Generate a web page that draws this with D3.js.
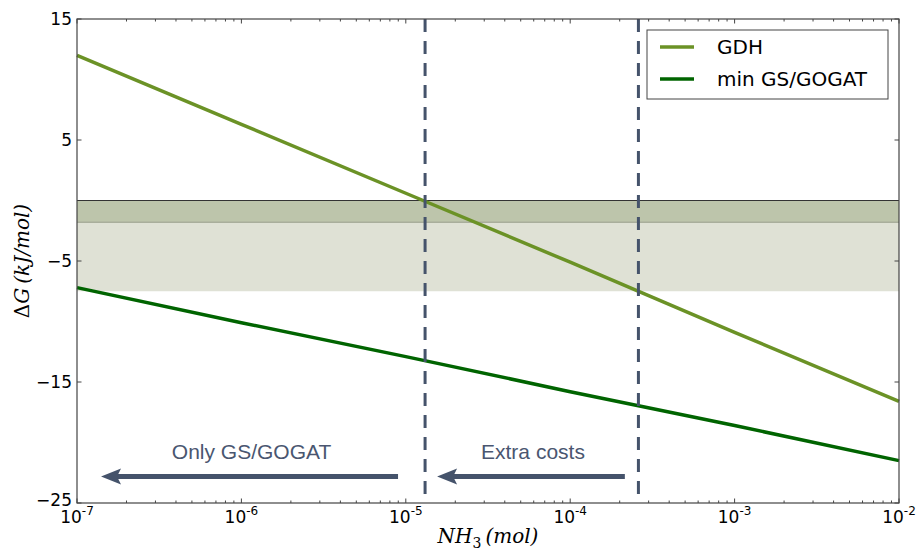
<!DOCTYPE html>
<html lang="en">
<head>
    <meta charset="UTF-8">
    <title>GDH vs GS/GOGAT</title>
    <script src="https://cdn.jsdelivr.net/npm/d3@7"></script>
    <style>
        body{ margin:0px; background:white; }
        text{ font-family:"DejaVu Sans", sans-serif; }
    </style>
</head>
<body>
    <svg id="chart"></svg>
</body>
<script>
    // values
    const nh3 = [1e-7, 1e-6, 1e-5, 1e-4, 1e-3, 1e-2];
    const gdh = [12.0, 6.3, 0.6, -5.1, -10.9, -16.6];
    const gsGogat = [-7.2, -10.1, -12.9, -15.8, -18.6, -21.5];
    const bandOuter = [0, -7.5];
    const bandInner = [0, -1.8];
    const thresholds = [1.31e-5, 2.6e-4];
    const yTicks = [15, 5, -5, -15, -25];
    const xTicks = [1e-7, 1e-6, 1e-5, 1e-4, 1e-3, 1e-2];
    const seriesNames = ['GDH', 'min GS/GOGAT'];
    const seriesColors = ['#6b9226', '#006400'];
    const notes = [
        {label:'Only GS/GOGAT', from:8.97e-6, to:1.4e-7, y:-22.8, ty:-21.4},
        {label:'Extra costs', from:2.15e-4, to:1.55e-5, y:-22.8, ty:-21.4}
    ];

    const w = 918, h = 551;
    const m = {top:19, right:19, bottom:48, left:77};
    const svg = d3.select('#chart').attr('width', w).attr('height', h);

    const x = d3.scaleLog().domain([1e-7, 1e-2]).range([m.left, w - m.right]);
    const y = d3.scaleLinear().domain([-25, 15]).range([h - m.bottom, m.top]);

    // bands
    svg.append('rect')
        .attr('x', x.range()[0]).attr('width', x.range()[1] - x.range()[0])
        .attr('y', y(bandOuter[0])).attr('height', y(bandOuter[1]) - y(bandOuter[0]))
        .attr('fill', '#dfe1d5');
    svg.append('rect')
        .attr('x', x.range()[0]).attr('width', x.range()[1] - x.range()[0])
        .attr('y', y(bandInner[0])).attr('height', y(bandInner[1]) - y(bandInner[0]))
        .attr('fill', '#bdc5ab');
    svg.append('line')
        .attr('x1', x.range()[0]).attr('x2', x.range()[1])
        .attr('y1', y(bandInner[1])).attr('y2', y(bandInner[1]))
        .attr('stroke', '#a9ae9c').attr('stroke-width', 1.5);
    svg.append('line')
        .attr('x1', x.range()[0]).attr('x2', x.range()[1])
        .attr('y1', y(0)).attr('y2', y(0))
        .attr('stroke', '#333').attr('stroke-width', 1);

    // lines
    const line = d3.line().x((d, i) => x(nh3[i])).y(d => y(d));
    [gdh, gsGogat].forEach((s, k) => {
        svg.append('path').datum(s)
            .attr('d', line)
            .attr('fill', 'none')
            .attr('stroke', seriesColors[k])
            .attr('stroke-width', 3.5);
    });

    // dashed thresholds
    thresholds.forEach(t => {
        svg.append('line')
            .attr('x1', x(t)).attr('x2', x(t))
            .attr('y1', m.top).attr('y2', h - m.bottom)
            .attr('stroke', '#45536b').attr('stroke-width', 3)
            .attr('stroke-dasharray', '13,9');
    });

    // arrows + notes
    notes.forEach(n => {
        const x0 = x(n.from), x1 = x(n.to), yy = y(n.y);
        svg.append('line')
            .attr('x1', x0).attr('x2', x1 + 14)
            .attr('y1', yy).attr('y2', yy)
            .attr('stroke', '#45536b').attr('stroke-width', 5);
        svg.append('path')
            .attr('d', `M${x1},${yy} L${x1 + 20},${yy - 8} L${x1 + 16},${yy} L${x1 + 20},${yy + 8} Z`)
            .attr('fill', '#45536b');
        svg.append('text')
            .attr('x', (x0 + x1) / 2 + 2).attr('y', y(n.ty))
            .attr('text-anchor', 'middle')
            .style('font-family', 'Liberation Sans, Arial, sans-serif')
            .attr('font-size', '21px').attr('fill', '#4a5670')
            .text(n.label);
    });

    // frame
    svg.append('rect')
        .attr('x', m.left).attr('y', m.top)
        .attr('width', w - m.left - m.right).attr('height', h - m.top - m.bottom)
        .attr('fill', 'none').attr('stroke', '#444').attr('stroke-width', 1.2);

    // ticks inside, mirrored
    const minor = [];
    for (let e = -7; e < -2; e++) for (let k = 2; k < 10; k++) minor.push(k * Math.pow(10, e));
    const tk = svg.append('g').attr('stroke', '#444').attr('stroke-width', 1);
    xTicks.forEach(t => {
        tk.append('line').attr('x1', x(t)).attr('x2', x(t)).attr('y1', y(-25)).attr('y2', y(-25) - 4.5);
        tk.append('line').attr('x1', x(t)).attr('x2', x(t)).attr('y1', y(15)).attr('y2', y(15) + 4.5);
    });
    minor.forEach(t => {
        tk.append('line').attr('x1', x(t)).attr('x2', x(t)).attr('y1', y(-25)).attr('y2', y(-25) - 2.5);
        tk.append('line').attr('x1', x(t)).attr('x2', x(t)).attr('y1', y(15)).attr('y2', y(15) + 2.5);
    });
    yTicks.forEach(t => {
        tk.append('line').attr('x1', m.left).attr('x2', m.left + 4.5).attr('y1', y(t)).attr('y2', y(t));
        tk.append('line').attr('x1', w - m.right).attr('x2', w - m.right - 4.5).attr('y1', y(t)).attr('y2', y(t));
    });

    // tick labels
    yTicks.forEach(t => {
        svg.append('text')
            .attr('x', m.left - 5).attr('y', y(t) + (t === -25 ? 3 : 6))
            .attr('text-anchor', 'end').attr('font-size', '17px')
            .text(t < 0 ? '\u2212' + Math.abs(t) : t);
    });
    xTicks.forEach(t => {
        const tx = svg.append('text')
            .attr('x', x(t)).attr('y', h - m.bottom + 20)
            .attr('text-anchor', 'middle').attr('font-size', '17px');
        tx.append('tspan').text('10');
        tx.append('tspan').attr('dy', -8).attr('font-size', '12px').text(Math.round(Math.log10(t)));
    });

    // axis titles
    svg.append('text')
        .attr('x', (m.left + w - m.right) / 2).attr('y', h - 8)
        .attr('text-anchor', 'middle')
        .style('font-family', 'DejaVu Serif, serif').style('font-style', 'italic')
        .attr('font-size', '20px')
        .call(t => {
            t.append('tspan').text('NH');
            t.append('tspan').attr('dy', 5).attr('font-size', '14px').style('font-style', 'normal').text('3');
            t.append('tspan').attr('dy', -5).text('\u2009(mol)');
        });
    svg.append('text')
        .attr('transform', 'translate(29,' + ((m.top + h - m.bottom) / 2) + ') rotate(-90)')
        .attr('text-anchor', 'middle')
        .style('font-family', 'DejaVu Serif, serif').style('font-style', 'italic')
        .attr('font-size', '20px')
        .call(t => {
            t.append('tspan').style('font-style', 'normal').text('\u0394');
            t.append('tspan').text('G\u2009(kJ/mol)');
        });

    // legend
    const lg = svg.append('g').attr('transform', 'translate(647,30)');
    lg.append('rect').attr('width', 241).attr('height', 69)
        .attr('fill', 'white').attr('stroke', '#444').attr('stroke-width', 1);
    seriesNames.forEach((s, i) => {
        lg.append('line').attr('x1', 13).attr('x2', 47).attr('y1', 17 + i * 32).attr('y2', 17 + i * 32)
            .attr('stroke', seriesColors[i]).attr('stroke-width', 3.5);
        lg.append('text').attr('x', 70).attr('y', 24 + i * 32)
            .attr('font-size', '20px').text(s);
    });
</script>
</html>
